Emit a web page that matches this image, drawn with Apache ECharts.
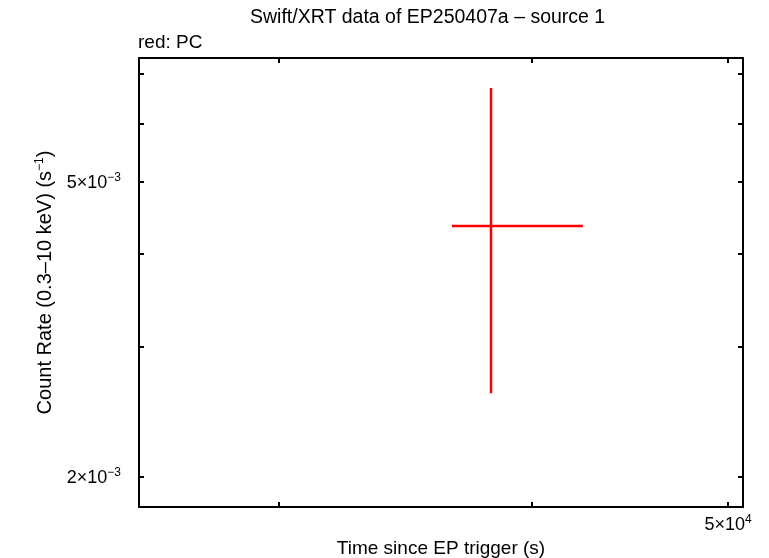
<!DOCTYPE html>
<html>
<head>
<meta charset="utf-8">
<script src="https://cdn.jsdelivr.net/npm/echarts@6/dist/echarts.min.js"></script>
<style>
  html, body { margin: 0; padding: 0; background: #fff; }
  #main { width: 769px; height: 558px; }
</style>
</head>
<body>
<div id="main"></div>
<script>
// data
const times = [38180];        // s since EP trigger
const timeLo = [36520];
const timeHi = [42390];
const rates = [0.004361];     // count/s
const rateLo = [0.002594];
const rateHi = [0.006695];

// ticks
const xTicks = [30000, 40000, 50000];
const xLabelled = [50000];
const yTicks = [0.002, 0.003, 0.004, 0.005, 0.006, 0.007];
const yLabelled = [0.002, 0.005];

const xRange = [25580, 50860];
const yRange = [0.001822, 0.00735];

const FONT = "Liberation Sans, Arial, sans-serif";
const lg = Math.log10;

// label like 5×10^-3 with superscript
function sciLabel(v) {
  let e = Math.floor(lg(v) + 1e-9);
  let m = Math.round(v / Math.pow(10, e));
  let es = e < 0 ? "\u2212" + (-e) : "" + e;
  return "{b|" + m + "\u00d710}{s|" + es + "}";
}
const rich = {
  b: { fontSize: 18, fontFamily: FONT, color: "#000", verticalAlign: "bottom", lineHeight: 20 },
  s: { fontSize: 12, fontFamily: FONT, color: "#000", verticalAlign: "top", lineHeight: 20 }
};

const chart = echarts.init(document.getElementById("main"));

const lineStyle = { color: "#000", width: 2 };
function xAxis(pos, showLabel) {
  return {
    type: "value",
    position: pos,
    min: lg(xRange[0]),
    max: lg(xRange[1]),
    axisLine: { show: true, onZero: false, lineStyle: lineStyle },
    axisTick: { show: true, inside: true, length: 5, customValues: xTicks.map(lg), lineStyle: { color: "#000", width: 2 } },
    axisLabel: {
      show: showLabel,
      customValues: xLabelled.map(lg),
      margin: 7,
      formatter: function (v) { return sciLabel(Math.pow(10, v)); },
      rich: rich
    },
    splitLine: { show: false },
    name: showLabel ? "Time since EP trigger (s)" : "",
    nameLocation: "middle",
    nameGap: 29,
    nameTextStyle: { fontSize: 19, fontFamily: FONT, color: "#000" }
  };
}
function yAxis(pos, showLabel) {
  return {
    type: "value",
    position: pos,
    min: lg(yRange[0]),
    max: lg(yRange[1]),
    axisLine: { show: true, onZero: false, lineStyle: lineStyle },
    axisTick: { show: true, inside: true, length: 5, customValues: yTicks.map(lg), lineStyle: { color: "#000", width: 2 } },
    axisLabel: {
      show: showLabel,
      customValues: yLabelled.map(lg),
      margin: 18,
      formatter: function (v) { return sciLabel(Math.pow(10, v)); },
      rich: rich
    },
    splitLine: { show: false },
    name: showLabel ? "{b|Count Rate (0.3\u201310 keV) (s}{s|\u22121}{b|)}" : "",
    nameLocation: "middle",
    nameGap: 80,
    nameTextStyle: {
      rich: {
        b: { fontSize: 20, fontFamily: FONT, color: "#000", verticalAlign: "bottom", lineHeight: 22 },
        s: { fontSize: 12, fontFamily: FONT, color: "#000", verticalAlign: "top", lineHeight: 22 }
      }
    }
  };
}

const points = times.map(function (t, i) {
  return [lg(t), lg(rates[i]), lg(timeLo[i]), lg(timeHi[i]), lg(rateLo[i]), lg(rateHi[i])];
});

chart.setOption({
  animation: false,
  backgroundColor: "#fff",
  grid: { left: 139, right: 26, top: 58, bottom: 51, containLabel: false, outerBoundsMode: "none" },
  graphic: [
    { type: "text", left: 250, top: 8, style: { text: "Swift/XRT data of EP250407a \u2013 source 1", font: "19.5px " + FONT, fill: "#000" }, z: 10 },
    { type: "text", left: 138, top: 33, style: { text: "red: PC", font: "19px " + FONT, fill: "#000" }, z: 10 }
  ],
  xAxis: [xAxis("bottom", true), xAxis("top", false)],
  yAxis: [yAxis("left", true), yAxis("right", false)],
  series: [{
    type: "custom",
    xAxisIndex: 0,
    yAxisIndex: 0,
    data: points,
    renderItem: function (params, api) {
      const c = api.coord([api.value(0), api.value(1)]);
      const xl = api.coord([api.value(2), api.value(1)]);
      const xh = api.coord([api.value(3), api.value(1)]);
      const yl = api.coord([api.value(0), api.value(4)]);
      const yh = api.coord([api.value(0), api.value(5)]);
      const st = { stroke: "#ff0000", lineWidth: 2.5 };
      return {
        type: "group",
        children: [
          { type: "line", shape: { x1: xl[0], y1: c[1], x2: xh[0], y2: c[1] }, style: st },
          { type: "line", shape: { x1: c[0], y1: yl[1], x2: c[0], y2: yh[1] }, style: st }
        ]
      };
    }
  }]
});
</script>
</body>
</html>
